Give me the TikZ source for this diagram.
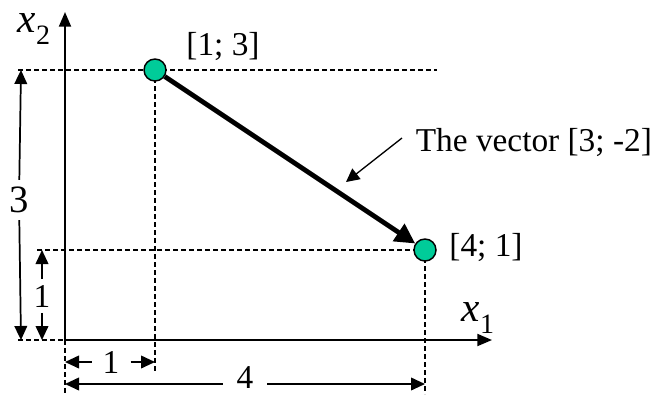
\documentclass[tikz,border=0pt]{standalone}
\usepackage{fontspec}
\setmainfont{Liberation Serif}
\usetikzlibrary{arrows.meta}
\definecolor{dotgreen}{RGB}{0,204,153}
\tikzset{every picture/.style={line width=0.75pt}}
\tikzset{
  guide/.style={line width=1pt,dash pattern=on 3.75pt off 2.25pt},
  dimline/.style={line width=1.3pt,-{Triangle[length=10.5pt,width=9.5pt]}},
  axis/.style={line width=1.4pt,-{Triangle[length=11pt,width=9pt]}},
  dot/.style={circle,draw,line width=1.1pt,fill=dotgreen,minimum size=16.5pt,inner sep=0pt},
  lbl/.style={font=\fontsize{25}{28}\selectfont,inner sep=1pt},
  axlbl/.style={font=\fontsize{31}{34}\selectfont\itshape,inner sep=0pt}
}

\begin{document}
\begin{tikzpicture}[x=0.75pt,y=0.75pt,yscale=-1,xscale=1]
\useasboundingbox (0,0) rectangle (654,394);

%Coordinates
\coordinate (o) at (65,340);
\coordinate (xend) at (492,340);
\coordinate (yend) at (65,12);

%Dashed guide lines
\draw [guide] (18,70) -- (437,70) ;
\draw [guide] (155,70) -- (155,372) ;
\draw [guide] (37,250) -- (425,250) ;
\draw [guide] (425,250) -- (425,394) ;
\draw [guide] (18,340) -- (65,340) ;
\draw [guide] (65,340) -- (65,394) ;

%Axes
\draw [axis] (o) -- (xend) ;
\draw [axis] (o) -- (yend) ;

% Text Node
\node [axlbl] (xone) at (478,318) {x\raisebox{-0.3em}{\fontsize{21}{21}\selectfont\upshape 1}};
% Text Node
\node [axlbl] (xtwo) at (34,29) {x\raisebox{-0.3em}{\fontsize{21}{21}\selectfont\upshape 2}};

%Points
\node [dot] (pa) at (155,70) {};
\node [dot] (pb) at (425,250) {};
\node [lbl] (la) at (223,46) {[1; 3]};
\node [lbl] (lb) at (486,247) {[4; 1]};

%Vector
\draw [line width=3.6pt,-{Triangle[length=15pt,width=15pt]}] (pa) -- (pb) ;

%Annotation
\node [lbl,anchor=west] (vtext) at (414,142) {The vector [3; -2]};
\coordinate (vfrom) at (402,138);
\coordinate (vto) at (346,182);
\draw [line width=1pt,-{Triangle[length=10pt,width=10pt]}] (vfrom) -- (vto) ;

%Dimension 3
\coordinate (d3t) at (21,70);
\coordinate (d3b) at (21,340);
\node [lbl,font=\fontsize{29}{30}\selectfont,inner ysep=5pt] (l3) at (19,200) {3};
\draw [dimline] (l3) -- (d3t) ;
\draw [dimline] (l3) -- (d3b) ;

%Dimension 1 (vertical)
\coordinate (d1t) at (42,250);
\coordinate (d1b) at (42,340);
\node [lbl,inner ysep=4pt] (l1v) at (42,296) {1};
\draw [dimline] (l1v) -- (d1t) ;
\draw [dimline] (l1v) -- (d1b) ;

%Dimension 1 (horizontal)
\coordinate (h1l) at (65,362);
\coordinate (h1r) at (155,362);
\node [lbl,inner xsep=8pt] (l1h) at (111,362) {1};
\draw [dimline] (l1h) -- (h1l) ;
\draw [dimline] (l1h) -- (h1r) ;

%Dimension 4
\coordinate (h4l) at (65,384);
\coordinate (h4r) at (425,384);
\node [lbl,inner xsep=10pt,inner ysep=0pt] (l4) at (245,378) {4};
\draw [dimline] (l4.west |- h4l) -- (h4l) ;
\draw [dimline] (l4.east |- h4r) -- (h4r) ;

\end{tikzpicture}
\end{document}
